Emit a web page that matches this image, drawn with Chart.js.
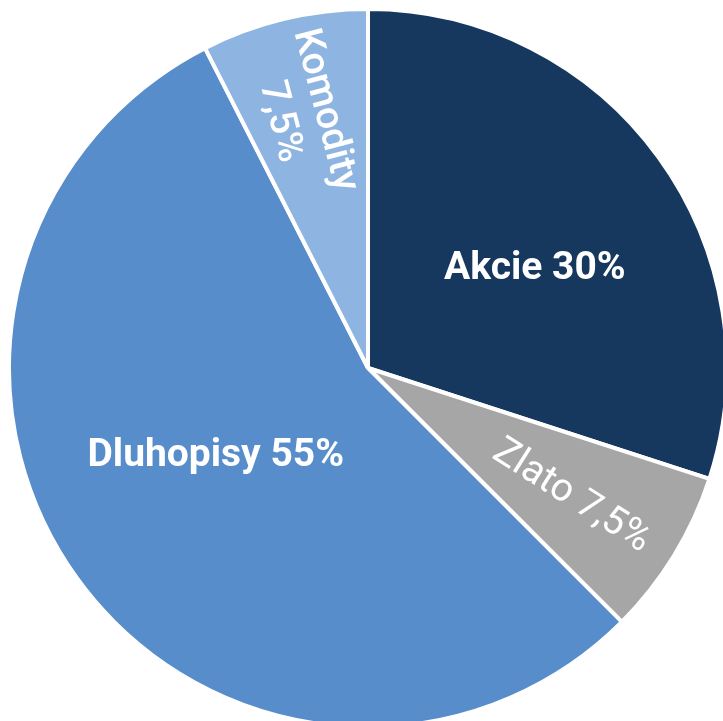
<!DOCTYPE html>
<html lang="cs">
<head>
  <meta charset="UTF-8" />
  <title>Rozložení portfolia</title>
  <script src="https://cdn.jsdelivr.net/npm/chart.js"></script>
  <style>
    html, body {
      margin: 0;
      padding: 0;
      background: #fff;
      overflow: hidden;
      width: 723px;
      height: 721px;
    }
    #chart { position: absolute; left: 0; top: 0; }
  </style>
</head>
<body>
  <canvas id="chart" width="736" height="736"></canvas>

  <script>
    // data
    const categories = ['Akcie', 'Zlato', 'Dluhopisy', 'Komodity'];
    const shares = [30, 7.5, 55, 7.5];
    const colors = ['#16375E', '#A6A6A6', '#588DCB', '#8EB4E2'];

    // how each label sits in its slice
    const labelStyle = [
      { angle: 0.55, radius: 0.54, rotate: false, weight: 'bold', wrap: false },
      { angle: 0.53, radius: 0.67, rotate: true,  weight: '400',  wrap: false },
      { angle: 0.53, radius: 0.49, rotate: false, weight: 'bold', wrap: false },
      { angle: 0.46, radius: 0.725, rotate: true, weight: '500',  wrap: true }
    ];

    function labelText(i) {
      const num = String(shares[i]).replace('.', ',') + '%';
      return labelStyle[i].wrap ? [categories[i], num] : [categories[i] + ' ' + num];
    }

    const sliceLabels = {
      id: 'sliceLabels',
      afterDatasetsDraw(chart) {
        const ctx = chart.ctx;
        const arcs = chart.getDatasetMeta(0).data;
        arcs.forEach((arc, i) => {
          const s = labelStyle[i];
          const { x, y, startAngle, endAngle, outerRadius } = arc.getProps(['x', 'y', 'startAngle', 'endAngle', 'outerRadius']);
          const a = startAngle + (endAngle - startAngle) * s.angle;
          const r = outerRadius * s.radius;
          ctx.save();
          ctx.translate(x + Math.cos(a) * r, y + Math.sin(a) * r);
          if (s.rotate) {
            let rot = a;
            if (Math.cos(a) < 0) rot += Math.PI;
            ctx.rotate(rot);
          }
          ctx.fillStyle = '#fff';
          ctx.font = s.weight + ' 39px Roboto';
          ctx.textAlign = 'center';
          ctx.textBaseline = 'middle';
          const lines = labelText(i);
          const lh = 46;
          lines.forEach((t, k) => {
            ctx.fillText(t, 0, (k - (lines.length - 1) / 2) * lh);
          });
          ctx.restore();
        });
      }
    };

    new Chart(document.getElementById('chart'), {
      type: 'pie',
      data: {
        labels: categories,
        datasets: [{
          data: shares,
          backgroundColor: colors,
          borderColor: '#fff',
          borderWidth: 4,
          hoverOffset: 0
        }]
      },
      options: {
        responsive: false,
        animation: false,
        layout: { padding: 7 },
        plugins: {
          legend: { display: false },
          tooltip: { enabled: false }
        }
      },
      plugins: [sliceLabels]
    });
  </script>
</body>
</html>
